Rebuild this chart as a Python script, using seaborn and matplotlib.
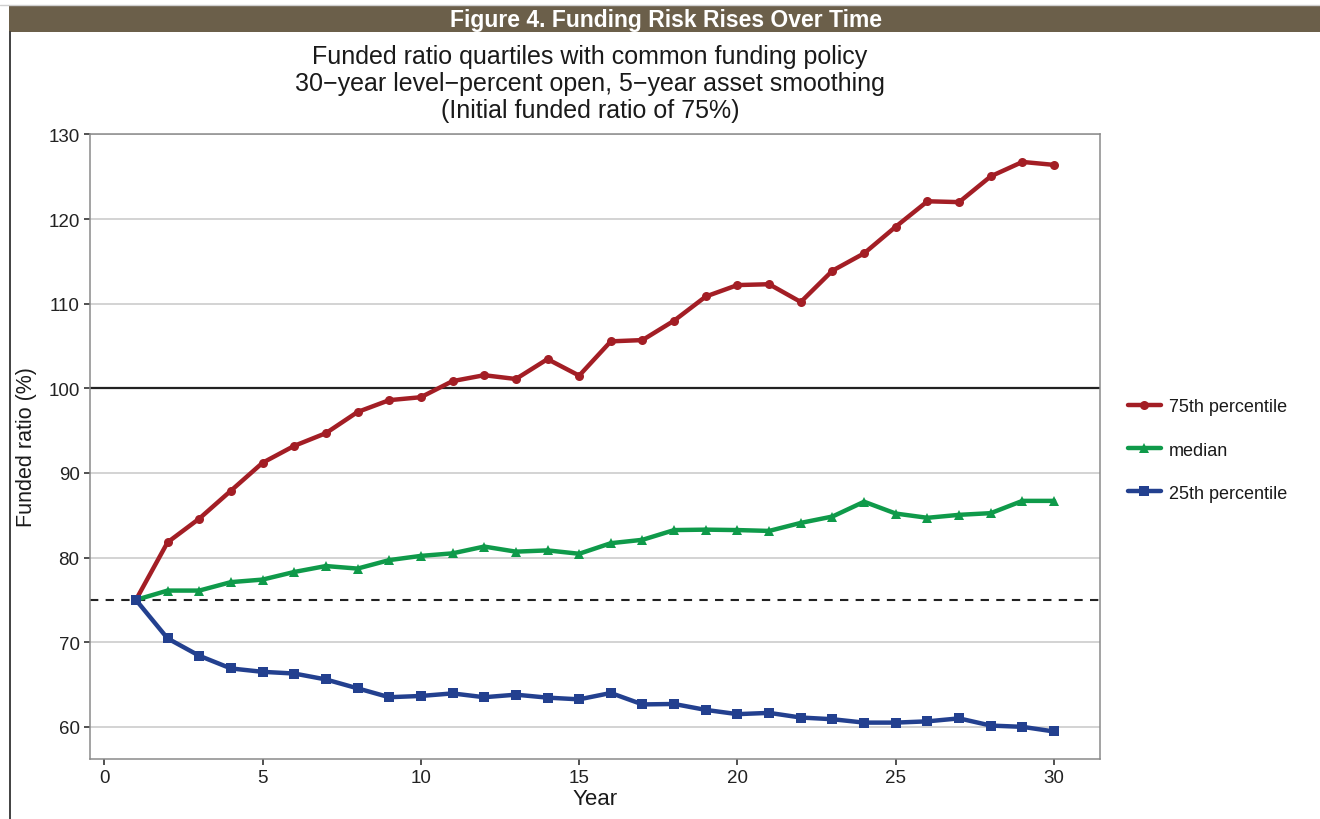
import matplotlib
matplotlib.use("Agg")
import numpy as np
import pandas as pd
import seaborn as sns
import matplotlib.pyplot as plt
from matplotlib.patches import Rectangle
from matplotlib.lines import Line2D

years = list(range(1, 31))
p75 = [75.0, 81.8, 84.6, 87.9, 91.2, 93.2, 94.7, 97.2, 98.6, 98.95,
       100.85, 101.55, 101.1, 103.45, 101.5, 105.55, 105.7, 108.0, 110.85, 112.2,
       112.3, 110.2, 113.9, 115.95, 119.1, 122.1, 122.0, 125.05, 126.75, 126.4]
median = [75.0, 76.1, 76.1, 77.1, 77.4, 78.3, 79.0, 78.7, 79.7, 80.2,
          80.5, 81.3, 80.7, 80.85, 80.45, 81.7, 82.1, 83.25, 83.3, 83.25,
          83.15, 84.1, 84.85, 86.6, 85.2, 84.7, 85.05, 85.25, 86.7, 86.7]
p25 = [75.0, 70.45, 68.4, 66.9, 66.5, 66.3, 65.6, 64.55, 63.5, 63.65,
       63.95, 63.5, 63.8, 63.45, 63.25, 64.0, 62.65, 62.7, 62.0, 61.5,
       61.65, 61.1, 60.9, 60.5, 60.5, 60.65, 61.0, 60.15, 60.0, 59.45]
series_names = ["75th percentile", "median", "25th percentile"]
title_text = "Figure 4. Funding Risk Rises Over Time"
subtitle = ("Funded ratio quartiles with common funding policy\n"
            "30\u2212year level\u2212percent open, 5\u2212year asset smoothing\n"
            "(Initial funded ratio of 75%)")
x_ticks = [0, 5, 10, 15, 20, 25, 30]
y_ticks = [60, 70, 80, 90, 100, 110, 120, 130]

colors = ["#a31e25", "#0f9a4a", "#23408f"]
markers = ["o", "^", "s"]
msizes = [6.5, 7.5, 7]

sns.set_theme(style="white")
plt.rcParams['font.family'] = ['Liberation Sans', 'DejaVu Sans']

W, H = 1320, 820
fig = plt.figure(figsize=(W / 100, H / 100), dpi=100)
fig.patch.set_facecolor("white")

# header bar
fig.patches.append(Rectangle((9 / W, 1 - 33 / H), 1 - 9 / W, 27 / H,
                             transform=fig.transFigure, facecolor="#6b5f4a",
                             edgecolor="none", zorder=0))
fig.lines.append(Line2D([0, 1], [1 - 5.5 / H, 1 - 5.5 / H], transform=fig.transFigure,
                        color="#cfcfcf", lw=1))
fig.lines.append(Line2D([9.5 / W, 9.5 / W], [0, 1 - 33 / H], transform=fig.transFigure,
                        color="#333333", lw=1.3))
fig.text(666 / W, 1 - 20 / H, title_text, color="white", fontsize=16.5,
         fontweight="bold", ha="center", va="center")
fig.text(590 / W, 1 - 84 / H, subtitle, color="#1a1a1a", fontsize=18,
         ha="center", va="center", linespacing=1.17)

ax = fig.add_axes([90 / W, 1 - 760 / H, (1100 - 90) / W, (760 - 135) / H])

df = pd.DataFrame({
    "Year": years * 3,
    "value": p75 + median + p25,
    "series": [series_names[0]] * 30 + [series_names[1]] * 30 + [series_names[2]] * 30,
})

for yv in y_ticks:
    ax.axhline(yv, color="#d0d0d0", lw=1.3, zorder=0)
ax.axhline(100, color="#222222", lw=1.6, zorder=1)
ax.axhline(75, color="#222222", lw=1.5, dashes=(4, 3.5), zorder=1)

for name, c, m, ms in zip(series_names, colors, markers, msizes):
    sns.lineplot(data=df[df["series"] == name], x="Year", y="value", color=c,
                 marker=m, markersize=ms, markeredgewidth=0, linewidth=3.2,
                 ax=ax, legend=False, zorder=3)

ax.set_xlim(-0.45, 31.45)
ax.set_ylim(56.2, 130.05)
ax.set_xticks(x_ticks)
ax.set_yticks(y_ticks)
ax.tick_params(axis="both", which="major", length=4.5, width=1.2, color="#333333",
               labelsize=13.5, labelcolor="#222222", bottom=True, left=True, pad=3)
for sp in ax.spines.values():
    sp.set_color("#8a8a8a")
    sp.set_linewidth(1.1)
ax.grid(False)
ax.set_xlabel("Year", fontsize=16, color="#1a1a1a", labelpad=1)
ax.set_ylabel("Funded ratio (%)", fontsize=15.5, color="#1a1a1a", labelpad=8)

handles = [Line2D([0], [0], color=c, marker=m, markersize=ms, markeredgewidth=0, lw=3.2)
           for c, m, ms in zip(colors, markers, msizes)]
leg = fig.legend(handles, series_names, loc="center left",
                 bbox_to_anchor=(1128 / W, 1 - 451 / H), frameon=False, borderpad=0,
                 borderaxespad=0, fontsize=13, handlelength=1.8, labelspacing=1.45,
                 handletextpad=0.45)
for t in leg.get_texts():
    t.set_color("#1a1a1a")

fig.savefig("out.png", dpi=100)
